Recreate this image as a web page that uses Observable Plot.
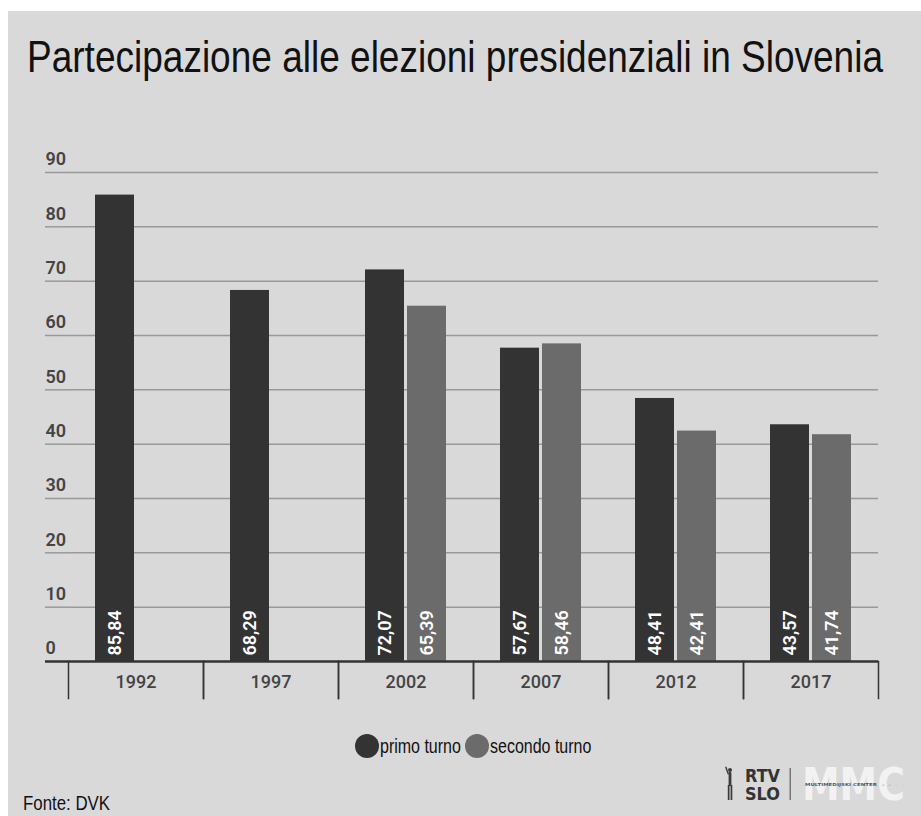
<!DOCTYPE html>
<html>
<head>
<meta charset="utf-8">
<script src="https://cdn.jsdelivr.net/npm/d3@7"></script>
<script src="https://cdn.jsdelivr.net/npm/@observablehq/plot@0.6"></script>
<style>
  body { margin: 0; background: #ffffff; }
  #card { position: absolute; left: 8px; top: 11px; width: 913px; height: 805px; background: #d9d9d9; overflow: hidden; }
  .narrow { font-family: "Liberation Sans", Arial, sans-serif; color: #111; }
  #title { position: absolute; left: 19px; top: 23px; font-size: 45px; line-height: 45px; white-space: nowrap; transform-origin: 0 0; display: inline-block; }
  #chart { position: absolute; left: 0; top: 129px; }
  #legend { position: absolute; left: 347px; top: 723px; height: 26px; font-size: 19.5px; white-space: nowrap; }
  #legend .sw { position: absolute; top: 0px; width: 24px; height: 24px; border-radius: 50%; }
  #legend .lab { position: absolute; top: 1px; transform-origin: 0 0; line-height: 22px; }
  #source { position: absolute; left: 15px; top: 780px; font-size: 20.5px; white-space: nowrap; transform-origin: 0 0; display: inline-block; }
  #logo { position: absolute; left: 712px; top: 752px; width: 200px; height: 45px; overflow: visible; }
</style>
</head>
<body>
<div id="card">
  <div id="title" class="narrow">Partecipazione alle elezioni presidenziali in Slovenia</div>
  <div id="chart"></div>
  <div id="legend" class="narrow"></div>
  <div id="source" class="narrow">Fonte: DVK</div>
  <svg id="logo" viewBox="0 0 200 45">
    <g fill="#3a3a3a">
      <circle cx="10" cy="7" r="2"/>
      <rect x="8.6" y="9" width="2.8" height="14" rx="1"/>
      <rect x="7.8" y="22" width="1.7" height="15"/>
      <rect x="10.6" y="22" width="1.7" height="15"/>
      <rect x="5" y="4" width="1.4" height="8" transform="rotate(-20 5 4)"/>
    </g>
    <text x="25" y="19" font-family="DejaVu Sans, sans-serif" font-weight="bold" font-size="18" fill="#333" textLength="35" lengthAdjust="spacingAndGlyphs">RTV</text>
    <text x="25" y="37" font-family="DejaVu Sans, sans-serif" font-weight="bold" font-size="18" fill="#333" textLength="35" lengthAdjust="spacingAndGlyphs">SLO</text>
    <rect x="69.5" y="5" width="1.5" height="32" fill="#777"/>
    <text x="82" y="37" font-family="DejaVu Sans, sans-serif" font-weight="bold" font-size="44" fill="#f2f2f2" textLength="103" lengthAdjust="spacingAndGlyphs">MMC</text>
    <text x="85" y="23" font-family="DejaVu Sans, sans-serif" font-weight="bold" font-size="4" fill="#555" textLength="72" lengthAdjust="spacingAndGlyphs">MULTIMEDIJSKI CENTER</text>
    <text x="161" y="23.5" font-family="DejaVu Sans, sans-serif" font-size="5" fill="#bbb" textLength="24" lengthAdjust="spacingAndGlyphs">• • ◦ ◦</text>
  </svg>
</div>
<script>
// ---- data ----
const years = ["1992", "1997", "2002", "2007", "2012", "2017"];
const series = ["primo turno", "secondo turno"];
const primoTurno = [85.84, 68.29, 72.07, 57.67, 48.41, 43.57];
const secondoTurno = [null, null, 65.39, 58.46, 42.41, 41.74];
const yTicks = [0, 10, 20, 30, 40, 50, 60, 70, 80, 90];
const colors = ["#333333", "#6b6b6b"];

const data = [];
years.forEach((y, i) => {
  if (primoTurno[i] != null) data.push({year: y, turno: series[0], value: primoTurno[i]});
  if (secondoTurno[i] != null) data.push({year: y, turno: series[1], value: secondoTurno[i]});
});
const fmt = v => d3.format(".2f")(v).replace(".", ",");

const W = 913, H = 566, mt = 32, mb = 45, ml = 58, mr = 41;
const innerH = H - mt - mb;

const chart = Plot.plot({
  width: W,
  height: H,
  marginTop: mt,
  marginBottom: mb,
  marginLeft: ml,
  marginRight: mr,
  style: {background: "transparent", fontFamily: "Roboto, sans-serif", overflow: "visible"},
  fx: {domain: years, padding: 0, axis: null, label: null},
  x: {domain: series, paddingInner: 0.07, paddingOuter: 0.61, axis: null},
  y: {domain: [0, 90], axis: null, label: null},
  color: {domain: series, range: colors},
  marks: [
    Plot.gridY(yTicks.filter(d => d > 0), {stroke: "#999", strokeOpacity: 1, strokeWidth: 1.5}),
    // left extension of the grid lines
    Plot.axisY(yTicks.filter(d => d > 0), {tickSize: 23, tickFormat: () => "", stroke: "#999", strokeWidth: 1.5, label: null}),
    // tick labels, above the lines
    Plot.axisY(yTicks, {tickSize: 0, tickPadding: 23, textAnchor: "start", dy: -13, fill: "#444", fontSize: 18, fontWeight: 600, tickFormat: d => d, label: null}),
    Plot.barY(data, {fx: "year", x: "turno", y: "value", fill: "turno"}),
    Plot.text(data, {fx: "year", x: "turno", y: 0, text: d => fmt(d.value), rotate: -90, textAnchor: "start", dy: -6, fill: "white", fontSize: 18, fontWeight: 600}),
    Plot.axisY([0], {tickSize: 23, tickFormat: () => "", stroke: "#333", strokeWidth: 2.5, label: null}),
    Plot.ruleY([0], {stroke: "#333", strokeWidth: 2.5}),
    Plot.frame({anchor: "left", stroke: "#333", strokeWidth: 1.5, insetTop: innerH, insetBottom: -37}),
    Plot.frame({anchor: "right", stroke: "#333", strokeWidth: 1.5, insetTop: innerH, insetBottom: -37}),
    Plot.axisFx({anchor: "bottom", tickSize: 0, tickPadding: 14, fontSize: 18, fontWeight: 500, fill: "#444", label: null})
  ]
});
document.getElementById("chart").appendChild(chart);

// legend (circle swatches + condensed labels)
const legend = document.getElementById("legend");
const squeeze = 0.82;
let cx = 0;
series.forEach((s, i) => {
  const sw = document.createElement("span");
  sw.className = "sw";
  sw.style.background = colors[i];
  sw.style.left = cx + "px";
  legend.appendChild(sw);
  cx += 25;
  const lab = document.createElement("span");
  lab.className = "lab";
  lab.textContent = s;
  lab.style.left = cx + "px";
  legend.appendChild(lab);
  const w = lab.getBoundingClientRect().width;
  lab.style.transform = `scaleX(${squeeze})`;
  cx += w * squeeze + (i === 0 ? 4 : 6);
});

// condensed title and source
const title = document.getElementById("title");
title.style.transform = `scaleX(${856 / title.getBoundingClientRect().width})`;
const source = document.getElementById("source");
source.style.transform = `scaleX(${87 / source.getBoundingClientRect().width})`;
</script>
</body>
</html>
